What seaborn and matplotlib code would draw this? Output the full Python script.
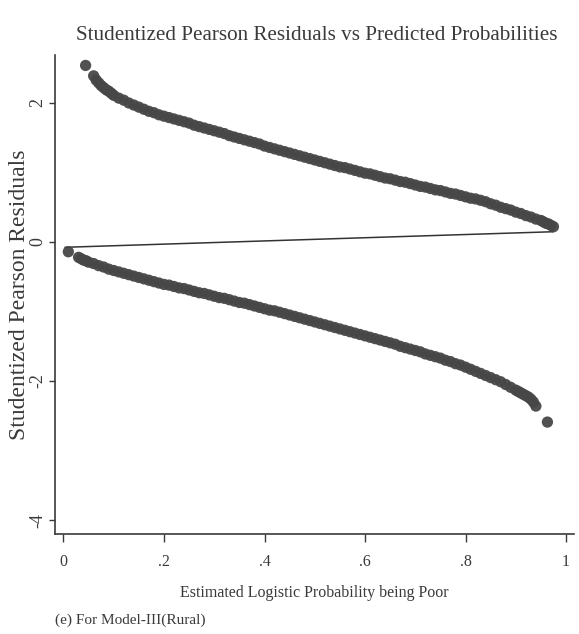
import numpy as np
import pandas as pd
import matplotlib
matplotlib.use("Agg")
import matplotlib.pyplot as plt
import seaborn as sns

# Upper branch (observations with outcome = 1)
upper_p = [0.044,
           0.06, 0.065, 0.07, 0.075, 0.08, 0.085, 0.09, 0.095, 0.10,
           0.11, 0.12, 0.13, 0.14, 0.15,
           0.16, 0.17, 0.18, 0.19, 0.20, 0.21, 0.22, 0.23, 0.24, 0.25,
           0.26, 0.27, 0.28, 0.29, 0.30, 0.31, 0.32, 0.33, 0.34, 0.35,
           0.36, 0.37, 0.38, 0.39, 0.40, 0.41, 0.42, 0.43, 0.44, 0.45,
           0.46, 0.47, 0.48, 0.49, 0.50, 0.51, 0.52, 0.53, 0.54, 0.55,
           0.56, 0.57, 0.58, 0.59, 0.60, 0.61, 0.62, 0.63, 0.64, 0.65,
           0.66, 0.67, 0.68, 0.69, 0.70, 0.71, 0.72, 0.73, 0.74, 0.75,
           0.76, 0.77, 0.78, 0.79, 0.80, 0.81, 0.82, 0.83, 0.84, 0.85,
           0.86, 0.87, 0.88, 0.89, 0.90, 0.91, 0.92, 0.93, 0.94, 0.95,
           0.955, 0.96, 0.965, 0.97, 0.975]
upper_r = [2.54,
           2.39, 2.33, 2.29, 2.25, 2.22, 2.19, 2.17, 2.14, 2.11,
           2.07, 2.04, 2.00, 1.97, 1.94,
           1.91, 1.88, 1.86, 1.83, 1.81, 1.79, 1.77, 1.75, 1.73, 1.71,
           1.68, 1.66, 1.64, 1.62, 1.60, 1.58, 1.56, 1.53, 1.51, 1.49,
           1.47, 1.45, 1.43, 1.41, 1.38, 1.36, 1.34, 1.32, 1.30, 1.28,
           1.26, 1.24, 1.22, 1.20, 1.18, 1.16, 1.14, 1.12, 1.10, 1.08,
           1.07, 1.05, 1.03, 1.01, 0.99, 0.98, 0.96, 0.94, 0.92, 0.91,
           0.89, 0.87, 0.86, 0.84, 0.82, 0.80, 0.79, 0.77, 0.75, 0.74,
           0.72, 0.70, 0.69, 0.67, 0.65, 0.63, 0.62, 0.60, 0.58, 0.55,
           0.53, 0.50, 0.48, 0.46, 0.43, 0.41, 0.38, 0.36, 0.33, 0.31,
           0.29, 0.27, 0.26, 0.24, 0.22]

# Lower branch (observations with outcome = 0)
lower_p = [0.0096,
           0.03, 0.035, 0.04, 0.045, 0.05, 0.06, 0.07, 0.08, 0.09, 0.10,
           0.11, 0.12, 0.13, 0.14, 0.15, 0.16, 0.17, 0.18, 0.19, 0.20,
           0.21, 0.22, 0.23, 0.24, 0.25, 0.26, 0.27, 0.28, 0.29, 0.30,
           0.31, 0.32, 0.33, 0.34, 0.35, 0.36, 0.37, 0.38, 0.39, 0.40,
           0.41, 0.42, 0.43, 0.44, 0.45, 0.46, 0.47, 0.48, 0.49, 0.50,
           0.51, 0.52, 0.53, 0.54, 0.55, 0.56, 0.57, 0.58, 0.59, 0.60,
           0.61, 0.62, 0.63, 0.64, 0.65, 0.66, 0.67, 0.68, 0.69, 0.70,
           0.71, 0.72, 0.73, 0.74, 0.75, 0.76, 0.77, 0.78, 0.79, 0.80,
           0.81, 0.82, 0.83, 0.84, 0.85, 0.86, 0.87, 0.88, 0.89, 0.90,
           0.905, 0.91, 0.915, 0.92, 0.925, 0.93, 0.935, 0.94, 0.963]
lower_r = [-0.14,
           -0.22, -0.24, -0.26, -0.27, -0.29, -0.31, -0.34, -0.36, -0.39, -0.41,
           -0.43, -0.45, -0.47, -0.49, -0.51, -0.53, -0.55, -0.57, -0.59, -0.61,
           -0.62, -0.64, -0.66, -0.67, -0.69, -0.71, -0.73, -0.74, -0.76, -0.78,
           -0.80, -0.81, -0.83, -0.85, -0.87, -0.88, -0.90, -0.92, -0.94, -0.96,
           -0.98, -0.99, -1.01, -1.03, -1.05, -1.07, -1.09, -1.11, -1.13, -1.15,
           -1.17, -1.19, -1.21, -1.23, -1.25, -1.27, -1.29, -1.31, -1.33, -1.35,
           -1.37, -1.39, -1.41, -1.43, -1.45, -1.47, -1.50, -1.52, -1.54, -1.56,
           -1.58, -1.61, -1.63, -1.65, -1.67, -1.70, -1.72, -1.75, -1.77, -1.80,
           -1.83, -1.86, -1.89, -1.92, -1.95, -1.98, -2.01, -2.05, -2.09, -2.13,
           -2.15, -2.17, -2.19, -2.21, -2.23, -2.26, -2.30, -2.36, -2.59]

# Straight connecting segment
segment_p = [0.003, 0.975]
segment_r = [-0.076, 0.148]

x_ticks = [0, 0.2, 0.4, 0.6, 0.8, 1.0]
x_tick_labels = ["0", ".2", ".4", ".6", ".8", "1"]
y_ticks = [-4, -2, 0, 2]
y_tick_labels = ["-4", "-2", "0", "2"]

title_text = "Studentized Pearson Residuals vs Predicted Probabilities"
x_label = "Estimated Logistic Probability being Poor"
y_label = "Studentized Pearson Residuals"
caption = "(e) For Model-III(Rural)"

sns.set_style("white")
plt.rcParams["font.family"] = ["Liberation Serif", "DejaVu Serif"]

ink = "#3a3a3a"
dot = "#474747"

fig = plt.figure(figsize=(5.79, 6.34), dpi=100)
ax = fig.add_axes([55 / 579, 1 - 534 / 634, 518.5 / 579, 479 / 634])

pts = pd.concat([
    pd.DataFrame({"p": upper_p, "r": upper_r}),
    pd.DataFrame({"p": lower_p, "r": lower_r}),
], ignore_index=True)
seg = pd.DataFrame({"p": segment_p, "r": segment_r})

sns.lineplot(data=seg, x="p", y="r", ax=ax, color="#333333", linewidth=1.1,
             sort=False, zorder=2)
sns.scatterplot(data=pts, x="p", y="r", ax=ax, color=dot, s=66,
                edgecolor="none", linewidth=0, alpha=0.95, zorder=3)

ax.set_xlim(-0.0169, 1.0149)
ax.set_ylim(-4.20, 2.69)

ax.set_xticks(x_ticks)
ax.set_xticklabels(x_tick_labels)
ax.set_yticks(y_ticks)
ax.set_yticklabels(y_tick_labels)

for side in ("top", "right"):
    ax.spines[side].set_visible(False)
for side in ("left", "bottom"):
    ax.spines[side].set_color(ink)
    ax.spines[side].set_linewidth(1.2)

ax.tick_params(axis="x", direction="out", length=5.5, width=1.0, color=ink,
               labelsize=11.5, labelcolor=ink, pad=9, bottom=True)
ax.tick_params(axis="y", direction="out", length=4.5, width=1.0, color=ink,
               labelsize=13, labelcolor=ink, pad=1.5, labelrotation=90, left=True)
for lab in ax.get_yticklabels():
    lab.set_va("center")

ax.set_xlabel(x_label, fontsize=11.5, color=ink)
ax.xaxis.label.set_va("center")
ax.xaxis.set_label_coords(0.5, -0.123)
ax.set_ylabel(y_label, fontsize=17, color=ink)
ax.yaxis.label.set_va("center")
ax.yaxis.set_label_coords(-0.0694, 0.5)

fig.text(317 / 579, 1 - 35 / 634, title_text, ha="center", va="center",
         fontsize=15.2, color=ink)
fig.text(55 / 579, 1 - 620 / 634, caption, ha="left", va="center",
         fontsize=11, color=ink)

fig.savefig("out.png", dpi=100, facecolor="white")
